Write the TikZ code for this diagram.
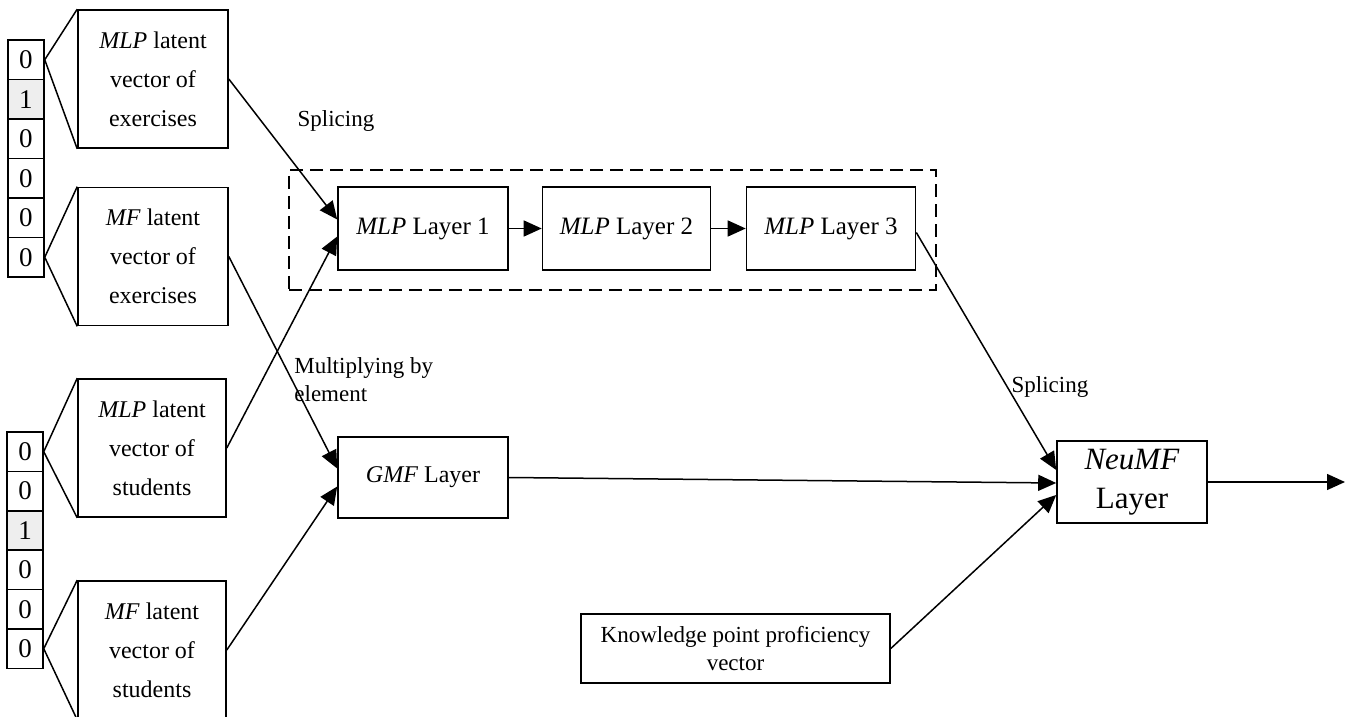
\documentclass[tikz,border=0pt]{standalone}
\usepackage{fontspec}
\setmainfont{Liberation Serif}
\usepackage{tikz}
\usetikzlibrary{positioning,arrows.meta}
\definecolor{onegray}{HTML}{EEEEEE}

\tikzset{
  cellbox/.style={draw, line width=0.75pt, minimum width=18pt, minimum height=19.7pt,
    inner sep=0pt, font=\fontsize{13.5}{15}\selectfont},
  vecbox/.style={draw, line width=0.8pt, align=center, inner sep=0pt,
    minimum width=75pt, minimum height=69pt, font=\fontsize{12}{19.5}\selectfont},
  layerbox/.style={draw, line width=0.8pt, align=center, inner sep=0pt,
    minimum width=85pt, minimum height=41.5pt, font=\fontsize{12.5}{15}\selectfont},
  lbl/.style={align=left, inner sep=0pt, font=\fontsize{11.5}{14}\selectfont},
  arr/.style={line width=0.75pt, -{Triangle[length=9pt,width=8pt]}},
  fan/.style={line width=0.75pt}
}

\begin{document}
\begin{tikzpicture}[x=0.5pt,y=-0.5pt]
        \useasboundingbox (0,0) rectangle (1357,717);
        % one-hot vectors
        \foreach \v [count=\i] in {0,1,0,0,0,0}
          {\ifnum\v=1 \node[cellbox,fill=onegray] (e\i) at (26,{40+39.5*(\i-0.5)}) {\v};
           \else \node[cellbox] (e\i) at (26,{40+39.5*(\i-0.5)}) {\v}; \fi}
        \foreach \v [count=\i] in {0,0,1,0,0,0}
          {\ifnum\v=1 \node[cellbox,fill=onegray] (s\i) at (25,{432+39.4*(\i-0.5)}) {\v};
           \else \node[cellbox] (s\i) at (25,{432+39.4*(\i-0.5)}) {\v}; \fi}
        % latent vectors
        \node[vecbox] (mlpex) at (153,79) {\textit{MLP} latent\\vector of\\exercises};
        \node[vecbox] (mfex) at (153,256.5) {\textit{MF} latent\\vector of\\exercises};
        \node[vecbox,minimum width=74pt] (mlpst) at (152,448) {\textit{MLP} latent\\vector of\\students};
        \node[vecbox,minimum width=74pt] (mfst) at (152,650) {\textit{MF} latent\\vector of\\students};
        \draw[fan] (mlpex.north west) -- (e1.east) -- (mlpex.south west);
        \draw[fan] (mfex.north west) -- (e6.east) -- (mfex.south west);
        \draw[fan] (mlpst.north west) -- (s1.east) -- (mlpst.south west);
        \draw[fan] (mfst.north west) -- (s6.east) -- (mfst.south west);
        % layers
        \node[draw, line width=1pt, dash pattern=on 6.5pt off 3.5pt, minimum width=323.5pt,
          minimum height=60pt, inner sep=0pt] (splice) at (612.5,230) {};
        \node[layerbox] (l1) at (423,228.5) {\textit{MLP} Layer 1};
        \node[layerbox,minimum width=84pt] (l2) at (626.5,228.5) {\textit{MLP} Layer 2};
        \node[layerbox,minimum width=84.5pt] (l3) at (831,228.5) {\textit{MLP} Layer 3};
        \node[layerbox,minimum height=40.5pt,font=\fontsize{12}{15}\selectfont] (gmf) at (423,477.5) {\textit{GMF} Layer};
        \node[layerbox,minimum width=75pt,minimum height=41pt,
          font=\fontsize{15.5}{19.5}\selectfont] (neumf) at (1132,482) {\textit{NeuMF}\\Layer};
        \node[layerbox,minimum width=154.5pt,minimum height=34.5pt,
          font=\fontsize{11.5}{14}\selectfont] (kpv) at (735.5,648.5) {Knowledge point proficiency\\vector};
        \coordinate (out) at (1345,482);
        % labels
        \node[lbl] (splab1) at (336,121) {Splicing};
        \node[lbl,anchor=west] (mullab) at (294,380) {Multiplying by\\element};
        \node[lbl] (splab2) at (1050,387) {Splicing};
        % connections
        \draw[arr] (mlpex.east) -- ([yshift=4.5pt]l1.west);
        \draw[arr] (mlpst.east) -- ([yshift=-4pt]l1.west);
        \draw[arr] (mfex.east) -- ([yshift=4.5pt]gmf.west);
        \draw[arr] (mfst.east) -- ([yshift=-4.5pt]gmf.west);
        \draw[arr] (l1) -- (l2);
        \draw[arr] (l2) -- (l3);
        \draw[arr] ([yshift=-2pt]l3.east) -- ([yshift=6pt]neumf.west);
        \draw[arr] (gmf.east) -- ([yshift=-0.5pt]neumf.west);
        \draw[arr] (kpv.east) -- ([yshift=-6.5pt]neumf.west);
        \draw[arr] (neumf.east) -- (out);
\end{tikzpicture}
\end{document}
